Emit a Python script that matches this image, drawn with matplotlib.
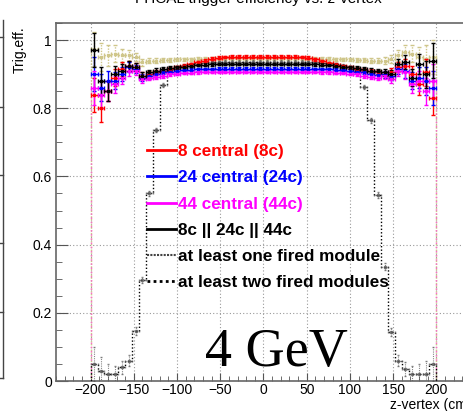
import numpy as np
import matplotlib.pyplot as plt
from matplotlib.lines import Line2D

plt.rcParams['font.family'] = ['Liberation Sans', 'DejaVu Sans']

# bins: 50 bins of 8 cm between -200 and 200
edges = np.arange(-200, 201, 8)
zc = 0.5 * (edges[:-1] + edges[1:])

# efficiency values (one value per bin)
eff_8c = [0.84, 0.80, 0.85, 0.89, 0.915, 0.925, 0.92, 0.895, 0.90, 0.905,
          0.91, 0.915, 0.92, 0.925, 0.93, 0.935, 0.94, 0.945, 0.948, 0.950,
          0.951, 0.951, 0.951, 0.951, 0.951, 0.951, 0.951, 0.951, 0.951, 0.951,
          0.950, 0.948, 0.943, 0.938, 0.933, 0.928, 0.924, 0.920, 0.916, 0.912,
          0.908, 0.905, 0.900, 0.905, 0.920, 0.925, 0.900, 0.870, 0.905, 0.830]
eff_24c = [0.90, 0.86, 0.88, 0.88, 0.90, 0.92, 0.915, 0.89, 0.895, 0.90,
           0.905, 0.907, 0.91, 0.912, 0.913, 0.914, 0.915, 0.915, 0.916, 0.916,
           0.916, 0.916, 0.916, 0.916, 0.916, 0.916, 0.916, 0.916, 0.916, 0.916,
           0.916, 0.916, 0.915, 0.915, 0.914, 0.913, 0.912, 0.91, 0.907, 0.905,
           0.90, 0.898, 0.90, 0.895, 0.915, 0.91, 0.88, 0.89, 0.88, 0.86]
eff_44c = [0.86, 0.84, 0.85, 0.87, 0.89, 0.91, 0.91, 0.885, 0.89, 0.893,
           0.896, 0.899, 0.901, 0.903, 0.904, 0.905, 0.906, 0.906, 0.906, 0.906,
           0.906, 0.906, 0.906, 0.906, 0.906, 0.906, 0.906, 0.906, 0.906, 0.906,
           0.906, 0.906, 0.906, 0.905, 0.905, 0.904, 0.903, 0.901, 0.899, 0.896,
           0.893, 0.89, 0.895, 0.885, 0.91, 0.905, 0.87, 0.88, 0.85, 0.88]
eff_or = [0.97, 0.88, 0.85, 0.90, 0.91, 0.925, 0.92, 0.895, 0.905, 0.91,
          0.915, 0.918, 0.92, 0.922, 0.925, 0.927, 0.928, 0.929, 0.93, 0.93,
          0.93, 0.93, 0.93, 0.93, 0.93, 0.93, 0.93, 0.93, 0.93, 0.93,
          0.93, 0.93, 0.929, 0.928, 0.927, 0.925, 0.922, 0.92, 0.918, 0.915,
          0.91, 0.908, 0.905, 0.90, 0.93, 0.935, 0.89, 0.93, 0.90, 0.94]
eff_one = [0.975, 0.95, 0.955, 0.96, 0.955, 0.955, 0.95, 0.935, 0.94, 0.94,
           0.941, 0.942, 0.943, 0.944, 0.944, 0.945, 0.945, 0.945, 0.946, 0.946,
           0.946, 0.946, 0.946, 0.946, 0.946, 0.946, 0.946, 0.946, 0.946, 0.946,
           0.946, 0.946, 0.945, 0.945, 0.945, 0.944, 0.944, 0.943, 0.942, 0.941,
           0.94, 0.94, 0.94, 0.945, 0.955, 0.965, 0.96, 0.95, 0.945, 0.95]
eff_two = [0.05, 0.03, 0.02, 0.02, 0.04, 0.06, 0.147, 0.296, 0.55, 0.736,
           0.868, 0.91, 0.92, 0.925, 0.93, 0.932, 0.934, 0.935, 0.936, 0.937,
           0.937, 0.937, 0.937, 0.937, 0.937, 0.937, 0.937, 0.937, 0.937, 0.937,
           0.937, 0.936, 0.935, 0.934, 0.932, 0.93, 0.925, 0.92, 0.91, 0.862,
           0.765, 0.545, 0.335, 0.144, 0.06, 0.035, 0.02, 0.02, 0.02, 0.05]
err = [0.05, 0.04, 0.03, 0.025, 0.02, 0.015, 0.012, 0.01, 0.008, 0.007,
       0.006, 0.005, 0.004, 0.004, 0.004, 0.004, 0.004, 0.004, 0.004, 0.004,
       0.004, 0.004, 0.004, 0.004, 0.004, 0.004, 0.004, 0.004, 0.004, 0.004,
       0.004, 0.004, 0.004, 0.004, 0.004, 0.004, 0.004, 0.004, 0.005, 0.006,
       0.007, 0.008, 0.01, 0.012, 0.015, 0.02, 0.025, 0.03, 0.04, 0.05]

labels = ['8 central (8c)', '24 central (24c)', '44 central (44c)',
          '8c || 24c || 44c', 'at least one fired module',
          'at least two fired modules']

fig = plt.figure(figsize=(4.64, 4.11), dpi=100)
ax = fig.add_axes([56 / 464, 1 - 381 / 411, 415 / 464, 358 / 411])

xerr = 4
# one fired module: khaki dotted histogram
eb = ax.errorbar(zc, eff_one, yerr=err, xerr=xerr, fmt='s', ms=2, color='#cfc68a',
                 elinewidth=1, capsize=1.5, zorder=2)
for c in eb[2]:
    c.set_linestyle((0, (1, 1)))
ax.vlines([edges[0], edges[-1]], 0, [eff_one[0], eff_one[-1]], color='#cfc68a',
          lw=1, linestyles=(0, (1, 1)), zorder=2)

# two fired modules: black dotted step
ax.stairs(eff_two, edges, color='black', lw=1, linestyle=(0, (1, 1.5)), zorder=3)
eb = ax.errorbar(zc, eff_two, yerr=err, xerr=xerr, fmt='s', ms=1.5, color='#555555',
                 elinewidth=0.8, capsize=1, zorder=3, alpha=0.7)
for c in eb[2]:
    c.set_linestyle((0, (1, 1)))

for vals, col in [(eff_8c, 'red'), (eff_24c, 'blue'), (eff_44c, 'magenta'),
                  (eff_or, 'black')]:
    ax.errorbar(zc, vals, yerr=err, xerr=xerr, fmt='s', ms=2, color=col,
                elinewidth=1, capsize=1.5, zorder=4)
ax.vlines([edges[0], edges[-1]], 0, [eff_44c[0], eff_44c[-1]], color='#ff66cc',
          lw=1, linestyles=(0, (1, 2)), zorder=2)

ax.set_xlim(-240, 240)
ax.set_ylim(0, 1.05)
ax.set_xticks(np.arange(-200, 201, 50))
ax.set_xticks(np.arange(-240, 241, 10), minor=True)
ax.set_yticks(np.arange(0, 1.01, 0.2))
ax.set_yticklabels(['0', '0.2', '0.4', '0.6', '0.8', '1'])
ax.set_yticks(np.arange(0, 1.051, 0.05), minor=True)
ax.grid(True, which='major', color='#999999', lw=0.8, linestyle=(0, (1, 2)))
ax.tick_params(which='both', direction='in', color='#555555', labelsize=10)
ax.tick_params(axis='y', which='major', length=8.5, pad=3)
ax.tick_params(axis='y', which='minor', length=4.3)
ax.tick_params(axis='x', which='major', length=6, pad=1.5)
ax.tick_params(axis='x', which='minor', length=3.5)
for s in ax.spines.values():
    s.set_color('#666666')
    s.set_linewidth(1.2)

handles = [Line2D([], [], color='red', lw=2),
           Line2D([], [], color='blue', lw=2),
           Line2D([], [], color='magenta', lw=2),
           Line2D([], [], color='black', lw=2),
           Line2D([], [], color='#444444', lw=1.5, linestyle=(0, (1, 0.6))),
           Line2D([], [], color='black', lw=2, linestyle=(0, (1, 1.2)))]
ax.legend(handles, labels, loc='upper left', bbox_to_anchor=(147 / 464, 1 - 144 / 411),
          bbox_transform=fig.transFigure, frameon=False, borderaxespad=0, borderpad=0,
          handlelength=1.7, handletextpad=0.1, labelspacing=0.66,
          labelcolor=['red', 'blue', 'magenta', 'black', 'black', 'black'],
          prop={'weight': 'bold', 'size': 12.3})

fig.text(205 / 464, 1 - 366 / 411, '4 GeV', fontsize=39, family='Liberation Serif',
         va='baseline')
fig.text(258 / 464, 1 - 3 / 411, 'FHCAL trigger efficiency vs. z-vertex',
         fontsize=11, ha='center', va='baseline')
fig.text(20 / 464, 1 - 26 / 411, 'Trig.eff.', rotation=90, fontsize=10,
         ha='center', va='top')
fig.text(471 / 464, 1 - 405 / 411, 'z-vertex (cm)', fontsize=10, ha='right',
         va='center')

# right edge of the neighbouring pad
fig.add_artist(Line2D([3.5 / 464, 3.5 / 464], [1 - 20 / 411, 1 - 378 / 411],
                      color='#444444', lw=1))
for yp in [37, 107, 175, 243, 312, 378]:
    fig.add_artist(Line2D([0, 3.5 / 464], [1 - yp / 411, 1 - yp / 411],
                          color='#444444', lw=1))

fig.savefig('out.png', dpi=100)
